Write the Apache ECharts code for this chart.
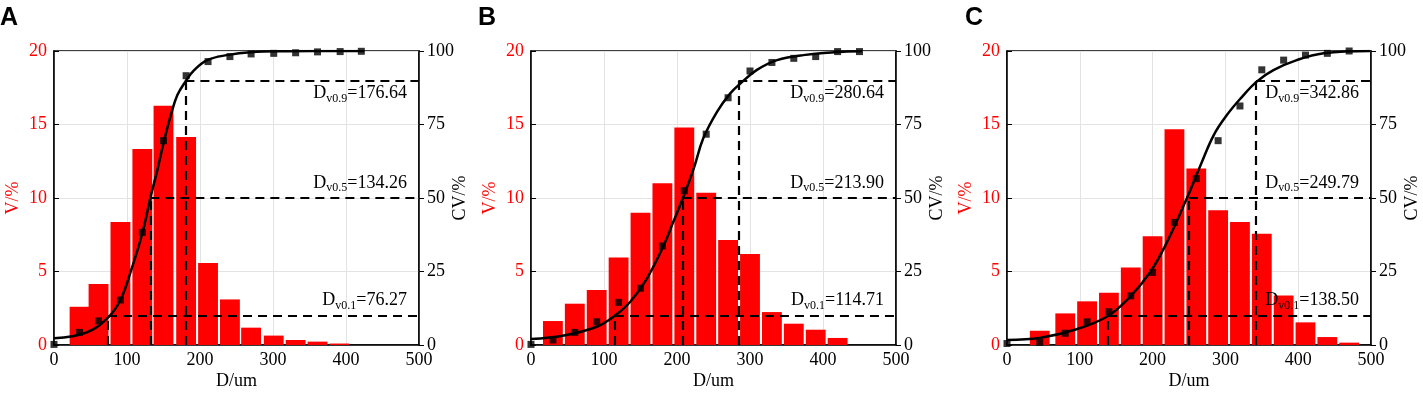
<!DOCTYPE html>
<html>
<head>
<meta charset="utf-8">
<script src="https://cdn.jsdelivr.net/npm/echarts@6/dist/echarts.min.js"></script>
<style>
html, body { margin: 0; padding: 0; background: #fff; }
#chart { width: 1423px; height: 393px; }
</style>
</head>
<body>
<div id="chart"></div>
<script>
// ---- panel A ----
const binsA  = [35, 61, 91, 121, 150, 181, 211, 241, 270, 301, 331, 361, 391]
const volA   = [2.6, 4.15, 8.37, 13.33, 16.28, 14.15, 5.58, 3.1, 1.18, 0.64, 0.34, 0.23, 0.1]
const cvXA   = [0, 35, 61, 91, 121, 150, 181, 211, 241, 270, 301, 331, 361, 392, 421]
const cvA    = [0.2, 4.3, 8.2, 15.3, 38.3, 69.5, 91.6, 96.4, 98.1, 99, 99.2, 99.4, 99.7, 99.8, 99.9]
const fitXA  = [0, 45, 75, 91, 105, 121, 132, 141, 151, 160, 169, 180, 192, 210, 237, 269, 320, 425]
const fitA   = [2.3, 4.3, 9.6, 15.3, 24.9, 38, 50.1, 58.9, 69.7, 78.2, 85, 89.6, 93.5, 96.9, 98.6, 99.6, 99.9, 100]
const dLineA = [74, 132, 180]
const dTextA = ['76.27', '134.26', '176.64']

// ---- panel B ----
const binsB  = [30, 60, 90, 120, 150, 180, 210, 240, 270, 300, 330, 360, 390, 420]
const volB   = [1.63, 2.81, 3.74, 5.96, 9.0, 11.0, 14.8, 10.36, 7.15, 6.19, 2.24, 1.45, 1.04, 0.48]
const cvXB   = [0, 30, 60, 90, 120, 150, 180, 210, 240, 270, 300, 330, 360, 390, 420, 450]
const cvB    = [0.2, 1.7, 4.3, 7.9, 14.5, 19.3, 33.7, 52.5, 71.7, 84.1, 93.2, 96.1, 97.5, 98.1, 99.8, 99.8]
const fitXB  = [0, 45, 90, 115, 136, 159, 182, 195, 208, 223, 236, 255, 273, 287, 309, 337, 373, 433, 453]
const fitB   = [2.0, 3.2, 6.2, 10.0, 14.7, 22.7, 34, 41.9, 49.9, 60.1, 70.3, 79.4, 85.6, 89, 93.5, 96.9, 98.6, 99.8, 99.9]
const dLineB = [115, 208, 284]
const dTextB = ['114.71', '213.90', '280.64']

// ---- panel C ----
const binsC  = [45, 80, 110, 140, 170, 200, 230, 260, 290, 320, 350, 380, 410, 440, 470]
const volC   = [0.97, 2.15, 2.97, 3.56, 5.28, 7.39, 14.67, 12.0, 9.16, 8.37, 7.57, 3.36, 1.54, 0.54, 0.16]
const cvXC   = [0, 45, 80, 110, 140, 170, 200, 230, 260, 290, 320, 350, 380, 410, 440, 470]
const cvC    = [0.5, 0.9, 4.0, 7.9, 11.3, 16.7, 24.7, 41.7, 56.6, 69.5, 81.3, 93.6, 96.9, 98.6, 99.2, 100]
const fitXC  = [0, 46, 92, 137, 169, 197, 220, 247, 266, 284, 302, 321, 343, 366, 398, 435, 499]
const fitC   = [1.7, 2.5, 5.1, 9.6, 16.4, 24.9, 35.1, 49.9, 61.2, 71.4, 78.2, 83.9, 89.6, 93.5, 96.9, 99.2, 100]
const dLineC = [139, 250, 342]
const dTextC = ['138.50', '249.79', '342.86']

// shared
const levels   = [10, 50, 90]
const subNames = ['v0.1', 'v0.5', 'v0.9']
const letters  = ['A', 'B', 'C']
const xTicks   = { min: 0, max: 500, interval: 100 }
const vTicks   = { min: 0, max: 20, interval: 5 }
const cvTicks  = { min: 0, max: 100, interval: 25 }

const panels = [
  { bins: binsA, vol: volA, cvX: cvXA, cv: cvA, fitX: fitXA, fit: fitA, dLine: dLineA, dText: dTextA, left: 54, width: 365 },
  { bins: binsB, vol: volB, cvX: cvXB, cv: cvB, fitX: fitXB, fit: fitB, dLine: dLineB, dText: dTextB, left: 531, width: 365 },
  { bins: binsC, vol: volC, cvX: cvXC, cv: cvC, fitX: fitXC, fit: fitC, dLine: dLineC, dText: dTextC, left: 1007, width: 364 },
]

const FONT = 'Liberation Serif'
const RED = '#ff0000'
const HALF = 13.6 // half bar width in um

const chart = echarts.init(document.getElementById('chart'))

const rich = {
  d: { fontFamily: FONT, fontSize: 18, color: '#000', lineHeight: 20, verticalAlign: 'top' },
  s: { fontFamily: FONT, fontSize: 12, color: '#000', lineHeight: 12, padding: [10, 0, 0, 0], verticalAlign: 'bottom' }
}

const grid = [], xAxis = [], yAxis = [], series = [], graphic = []

panels.forEach((p, i) => {
  grid.push({
    left: p.left, width: p.width, top: 51, height: 294,
    outerBoundsMode: 'none', containLabel: false,
    show: true, borderColor: '#000', borderWidth: 1.5
  })
  xAxis.push({
    type: 'value', gridIndex: i, ...xTicks,
    name: 'D/um', nameLocation: 'middle', nameGap: 27, nameMoveOverlap: false,
    nameTextStyle: { fontFamily: FONT, fontSize: 18, color: '#000' },
    axisLine: { show: true, lineStyle: { color: '#000', width: 1.5 } },
    axisTick: { show: false },
    axisLabel: { fontFamily: FONT, fontSize: 18, color: '#000', margin: 6 },
    splitLine: { show: true, lineStyle: { color: '#e3e3e3', width: 1 } }
  })
  yAxis.push({
    type: 'value', gridIndex: i, position: 'left', ...vTicks,
    name: 'V/%', nameLocation: 'middle', nameGap: 32, nameRotate: 90, nameMoveOverlap: false,
    nameTextStyle: { fontFamily: FONT, fontSize: 18, color: RED },
    axisLine: { show: true, lineStyle: { color: '#000', width: 1.5 } },
    axisTick: { show: true, inside: true, length: 5, lineStyle: { color: '#000' } },
    axisLabel: { fontFamily: FONT, fontSize: 18, color: RED, margin: 7 },
    splitLine: { show: true, lineStyle: { color: '#e3e3e3', width: 1 } }
  })
  yAxis.push({
    type: 'value', gridIndex: i, position: 'right', ...cvTicks,
    name: 'CV/%', nameLocation: 'middle', nameGap: 32, nameRotate: 90, nameMoveOverlap: false,
    nameTextStyle: { fontFamily: FONT, fontSize: 18, color: '#000' },
    axisLine: { show: true, lineStyle: { color: '#000', width: 1.5 } },
    axisTick: { show: true, inside: false, length: 5, lineStyle: { color: '#000' } },
    axisLabel: { fontFamily: FONT, fontSize: 18, color: '#000', margin: 8 },
    splitLine: { show: false }
  })

  // histogram bars
  series.push({
    type: 'custom', xAxisIndex: i, yAxisIndex: 2 * i,
    data: p.bins.map((x, k) => [x, p.vol[k]]),
    renderItem: (params, api) => {
      const x = api.value(0), v = api.value(1)
      const a = api.coord([x - HALF, v])
      const b = api.coord([x + HALF, 0])
      return {
        type: 'rect',
        shape: { x: a[0], y: a[1], width: b[0] - a[0], height: b[1] - a[1] },
        style: { fill: RED }
      }
    },
    z: 2
  })

  const hLines = levels.map((lv, k) => [{
    coord: [p.dLine[k], lv],
    label: {
      show: true,
      position: k === 2 ? 'insideEndBottom' : 'insideEndTop',
      distance: [12, 4],
      formatter: `{d|D}{s|${subNames[k]}}{d|=${p.dText[k]}}`,
      rich
    }
  }, { coord: [xTicks.max, lv] }])
  const vLines = levels.map((lv, k) => [{ coord: [p.dLine[k], 0] }, { coord: [p.dLine[k], lv] }])

  // fitted cumulative curve + dashed guide lines
  series.push({
    type: 'line', xAxisIndex: i, yAxisIndex: 2 * i + 1,
    data: p.fitX.map((x, k) => [x, p.fit[k]]),
    smooth: 0.4, showSymbol: false,
    lineStyle: { color: '#000', width: 2.5 },
    markLine: {
      silent: true, symbol: ['none', 'none'], animation: false,
      lineStyle: { color: '#000', width: 2.2, type: [9, 6] },
      label: { show: false },
      data: hLines.concat(vLines)
    },
    z: 3
  })

  // measured cumulative values
  series.push({
    type: 'scatter', xAxisIndex: i, yAxisIndex: 2 * i + 1,
    data: p.cvX.map((x, k) => [x, p.cv[k]]),
    symbol: 'rect', symbolSize: 7,
    itemStyle: { color: '#000' },
    z: 4
  })
})

const letterX = [0, 478, 965]
letters.forEach((t, i) => {
  graphic.push({
    type: 'text', left: letterX[i], top: 6,
    style: { text: t, font: 'bold 25px "Liberation Sans"', fill: '#000' }
  })
})

chart.setOption({
  animation: false,
  textStyle: { fontFamily: FONT },
  grid, xAxis, yAxis, series, graphic
})
</script>
</body>
</html>
